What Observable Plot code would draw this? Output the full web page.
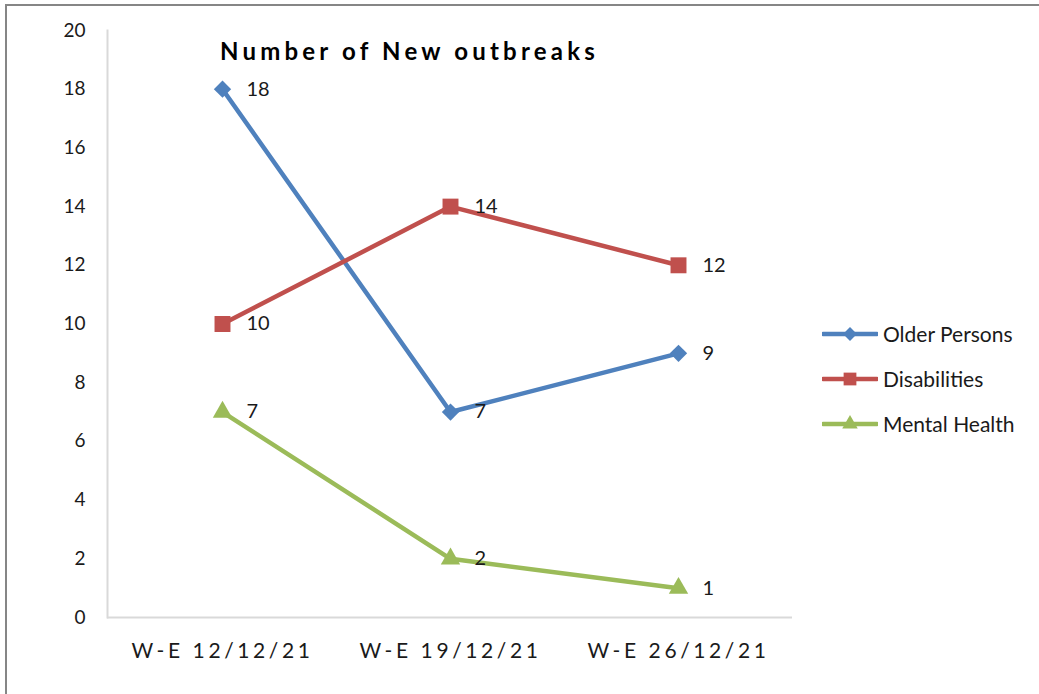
<!DOCTYPE html>
<html>
<head>
<meta charset="utf-8">
<script src="https://cdn.jsdelivr.net/npm/d3@7"></script>
<script src="https://cdn.jsdelivr.net/npm/@observablehq/plot@0.6"></script>
<style>
  html, body { margin: 0; padding: 0; background: #fff; }
  body { width: 1039px; height: 694px; position: relative; overflow: hidden; font-family: Lato, "Open Sans", sans-serif; }
  #frame { position: absolute; left: 5px; top: 4px; width: 1100px; height: 800px; border-top: 2px solid #868686; border-left: 2px solid #868686; box-sizing: border-box; pointer-events: none; }
  #chart { position: absolute; left: 0; top: 0; }
  #title { position: absolute; left: 220px; top: 36px; font-size: 24px; font-weight: bold; letter-spacing: 4.2px; color: #000; white-space: nowrap; }
  #legend { position: absolute; left: 822px; top: 311px; }
  .item { display: flex; align-items: center; height: 45px; font-size: 21px; color: #1a1a1a; white-space: nowrap; }
  .item svg { margin-right: 5px; }
  svg text { fill: #1a1a1a; }
  g[aria-label="x-axis tick label"] text { letter-spacing: 3.6px; }
</style>
</head>
<body>
<div id="chart"></div>
<div id="title">Number of New outbreaks</div>
<div id="legend"></div>
<div id="frame"></div>
<script>
const weeks = ["W-E 12/12/21", "W-E 19/12/21", "W-E 26/12/21"];
const seriesNames = ["Older Persons", "Disabilities", "Mental Health"];
const olderPersons = [18, 7, 9];
const disabilities = [10, 14, 12];
const mentalHealth = [7, 2, 1];
const yTicks = [0, 2, 4, 6, 8, 10, 12, 14, 16, 18, 20];
const colors = ["#4F81BD", "#C0504D", "#9BBB59"];
const symbols = ["diamond2", "square", "triangle"];
const markerR = [7.8, 9, 7.2];

const valuesBySeries = [olderPersons, disabilities, mentalHealth];
const data = seriesNames.flatMap((s, i) =>
  weeks.map((w, j) => ({series: s, week: w, value: valuesBySeries[i][j]})));

const chart = Plot.plot({
  width: 1039,
  height: 694,
  marginLeft: 107,
  marginRight: 247,
  marginTop: 30,
  marginBottom: 77,
  style: {fontFamily: "Lato, 'Open Sans', sans-serif", background: "transparent"},
  x: {type: "point", domain: weeks, padding: 0.5},
  y: {domain: [0, 20]},
  color: {domain: seriesNames, range: colors},
  symbol: {domain: seriesNames, range: symbols},
  marks: [
    Plot.ruleY([0], {stroke: "#d9d9d9", strokeWidth: 2}),
    Plot.frame({anchor: "left", stroke: "#d9d9d9", strokeWidth: 2}),
    Plot.axisY({ticks: yTicks, tickSize: 0, tickPadding: 22, fontSize: 19, label: null}),
    Plot.axisX({tickSize: 0, tickPadding: 26, fontSize: 21, label: null}),
    Plot.line(data, {x: "week", y: "value", z: "series", stroke: "series", strokeWidth: 4.5}),
    ...seriesNames.map((s, i) =>
      Plot.dot(data.filter(d => d.series === s), {x: "week", y: "value", fill: "series", symbol: "series", r: markerR[i], stroke: "none"})),
    Plot.text(data, {x: "week", y: "value", text: "value", dx: 24, textAnchor: "start", fontSize: 20, fill: "#1a1a1a"})
  ]
});
document.getElementById("chart").appendChild(chart);

// legend
const legend = document.getElementById("legend");
const symGen = {
  "diamond2": d3.symbolDiamond2,
  "square": d3.symbolSquare,
  "triangle": d3.symbolTriangle
};
seriesNames.forEach((s, i) => {
  const item = document.createElement("div");
  item.className = "item";
  const svg = d3.create("svg").attr("width", 56).attr("height", 20);
  svg.append("line").attr("x1", 1).attr("x2", 55).attr("y1", 10).attr("y2", 10)
    .attr("stroke", colors[i]).attr("stroke-width", 4.5).attr("stroke-linecap", "round");
  const r = markerR[i] * 0.8;
  svg.append("path").attr("transform", "translate(28,10)")
    .attr("d", d3.symbol(symGen[symbols[i]], Math.PI * r * r)())
    .attr("fill", colors[i]);
  item.appendChild(svg.node());
  const label = document.createElement("span");
  label.textContent = s;
  item.appendChild(label);
  legend.appendChild(item);
});
</script>
</body>
</html>
